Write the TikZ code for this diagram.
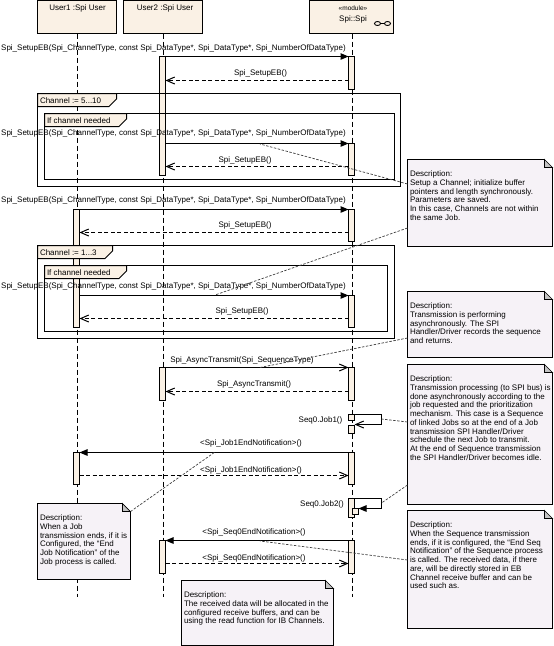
\documentclass[tikz,border=0pt]{standalone}
\usepackage{fontspec}
\setmainfont{Liberation Sans}
\usepackage{xcolor}
\usetikzlibrary{positioning,calc,arrows.meta}
\definecolor{headfill}{HTML}{FAF1E5}
\definecolor{notefill}{HTML}{F6F2F7}
\definecolor{foldfill}{HTML}{C4C4C4}
\tikzset{
  every node/.style={font=\fontsize{8}{8.7}\selectfont, inner sep=0pt, outer sep=0pt},
  headbox/.style={draw, fill=headfill, line width=1pt, anchor=north west},
  actbox/.style={draw, fill=headfill, line width=1pt, minimum width=6pt},
  framebox/.style={draw, line width=1pt},
  tabbox/.style={draw, fill=headfill, line width=1pt},
  lifeline/.style={line width=1pt, dash pattern=on 5pt off 3pt},
  callmsg/.style={line width=1pt, -{Triangle[length=8pt,width=6.5pt]}},
  openmsg/.style={line width=1pt, -{Straight Barb[length=8pt,width=7pt]}},
  retmsg/.style={line width=1pt, dash pattern=on 4pt off 2.5pt, -{Straight Barb[length=8pt,width=7pt]}},
  notebox/.style={draw, fill=notefill, line width=1pt, anchor=north west},
  notetext/.style={align=left},
  foldcut/.style={fill=white},
  foldflap/.style={draw, fill=foldfill, line width=0.7pt},
  noteline/.style={draw=black!75, line width=0.7pt, dash pattern=on 2.5pt off 1.5pt},
}
\begin{document}
\begin{tikzpicture}[x=1pt, y=-1pt]
  \useasboundingbox (0,0) rectangle (554,646);

  % Heads
  \node[headbox, minimum width=79pt, minimum height=33pt] (headA) at (37.5,0.5) {};
  \node[headbox, minimum width=79pt, minimum height=33pt] (headB) at (123.5,0.5) {};
  \node[headbox, minimum width=84pt, minimum height=33pt] (headC) at (309.5,0.5) {};
  \node (nameA) at (77.5,8.5) {User1 :Spi User};
  \node (nameB) at (165,8.5) {User2 :Spi User};
  \node[font=\fontsize{6.5}{7}\selectfont] (stereoC) at (353,8.5) {«module»};
  \node (nameC) at (353,19.5) {Spi::Spi};
  \draw[line width=0.9pt] (377.5,23.5) ellipse (3pt and 2pt) (387.5,23.5) ellipse (3pt and 2pt) (380.5,23.5) -- (384.5,23.5);

  % Lifelines
  \coordinate (endA) at (77.5,597);
  \coordinate (endB) at (163.5,597);
  \coordinate (endC) at (352.5,597);
  \draw[lifeline] (endA |- headA.south) -- (endA);
  \draw[lifeline] (endB |- headB.south) -- (endB);
  \draw[lifeline] (endC |- headC.south) -- (endC);

  % Activations
  \node[actbox, minimum height=119pt] (actA) at (162.5,116) {};
  \node[actbox, minimum height=33pt] (actB) at (351.5,73) {};
  \node[actbox, minimum height=32pt] (actC) at (351.5,159.5) {};
  \node[actbox, minimum height=118pt] (actD) at (76.5,268.5) {};
  \node[actbox, minimum height=32pt] (actE) at (351.5,225.5) {};
  \node[actbox, minimum height=32pt] (actF) at (351.5,311.5) {};
  \node[actbox, minimum height=33pt] (actG) at (162.5,384) {};
  \node[actbox, minimum height=33pt] (actH) at (351.5,384) {};
  \node[actbox, minimum height=6pt] (jobA) at (351.5,417.5) {};
  \node[actbox, minimum height=8pt] (jobB) at (351.5,429.5) {};
  \node[actbox, minimum height=32pt] (actI) at (351.5,468.5) {};
  \node[actbox, minimum height=32pt] (actJ) at (76.5,468.5) {};
  \node[actbox, minimum height=19pt] (jobC) at (351.5,508) {};
  \node[actbox, minimum height=6pt] (jobD) at (355.5,511.5) {};
  \node[actbox, minimum height=33pt] (actK) at (351.5,557) {};
  \node[actbox, minimum height=33pt] (actL) at (162.5,557) {};

  % Loop frames
  \draw[framebox] (37.5,93.5) rectangle (400.5,186.5);
  \draw[framebox] (44.5,113.5) rectangle (394.5,179.5);
  \draw[framebox] (37.5,245.5) rectangle (394.5,338.5);
  \draw[framebox] (44.5,265.5) rectangle (387.5,331.5);
  \draw[tabbox] (37.5,93.5) -- (116.5,93.5) -- (116.5,99) -- (109,106.5) -- (37.5,106.5) -- cycle;
  \draw[tabbox] (44.5,113.5) -- (126.5,113.5) -- (126.5,119) -- (119,126.5) -- (44.5,126.5) -- cycle;
  \draw[tabbox] (37.5,245.5) -- (112.5,245.5) -- (112.5,251) -- (105,258.5) -- (37.5,258.5) -- cycle;
  \draw[tabbox] (44.5,265.5) -- (126.5,265.5) -- (126.5,271) -- (119,278.5) -- (44.5,278.5) -- cycle;
  \node[anchor=west] (tabA) at (40,101) {Channel := 5...10};
  \node[anchor=west] (tabB) at (47,120.3) {If channel needed};
  \node[anchor=west] (tabC) at (40,253) {Channel := 1...3};
  \node[anchor=west] (tabD) at (47,273) {If channel needed};

  % Calls and returns
  \draw[callmsg] (actA.east |- actB.north) -- (actB.north west);
  \draw[retmsg] (actB.west |- 0,80.5) -- (actA.east |- 0,80.5);
  \draw[callmsg] (actA.east |- actC.north) -- (actC.north west);
  \draw[retmsg] (actC.west |- 0,166.5) -- (actA.east |- 0,166.5);
  \draw[callmsg] (actD.east |- actE.north) -- (actE.north west);
  \draw[retmsg] (actE.west |- 0,232.5) -- (actD.east |- 0,232.5);
  \draw[callmsg] (actD.east |- actF.north) -- (actF.north west);
  \draw[retmsg] (actF.west |- 0,318.5) -- (actD.east |- 0,318.5);
  \draw[openmsg] (actG.north east) -- (actH.north west);
  \draw[retmsg] (actH.west |- 0,391.5) -- (actG.east |- 0,391.5);
  \coordinate (loopA) at (381.5,424.5);
  \draw[openmsg] (jobA.north east) -| (loopA) -- (jobB.east |- loopA);
  \draw[callmsg] (actI.north west) -- (actJ.north east);
  \draw[retmsg] (actJ.east |- 0,475.5) -- (actI.west |- 0,475.5);
  \coordinate (loopB) at (381.5,508.5);
  \draw[callmsg] (jobC.north east) -| (loopB) -- (jobD.north east);
  \draw[callmsg] (actK.north west) -- (actL.north east);
  \draw[retmsg] (actL.east |- 0,563.5) -- (actK.west |- 0,563.5);

  % Message labels
  \node (setupA) at (173.5,48) {Spi\_SetupEB(Spi\_ChannelType, const Spi\_DataType*, Spi\_DataType*, Spi\_NumberOfDataType)};
  \node (setupB) at (260.5,73) {Spi\_SetupEB()};
  \node (setupC) at (173.5,133) {Spi\_SetupEB(Spi\_ChannelType, const Spi\_DataType*, Spi\_DataType*, Spi\_NumberOfDataType)};
  \node (setupD) at (245,160) {Spi\_SetupEB()};
  \node (setupE) at (173.5,200) {Spi\_SetupEB(Spi\_ChannelType, const Spi\_DataType*, Spi\_DataType*, Spi\_NumberOfDataType)};
  \node (setupF) at (245,225) {Spi\_SetupEB()};
  \node (setupG) at (173.5,286) {Spi\_SetupEB(Spi\_ChannelType, const Spi\_DataType*, Spi\_DataType*, Spi\_NumberOfDataType)};
  \node (setupH) at (242,311) {Spi\_SetupEB()};
  \node (asyncA) at (242,360) {Spi\_AsyncTransmit(Spi\_SequenceType)};
  \node (asyncB) at (254,384) {Spi\_AsyncTransmit()};
  \node (seqA) at (320.5,420) {Seq0.Job1()};
  \node (notifA) at (251,443) {<Spi\_Job1EndNotification>()};
  \node (notifB) at (251,470) {<Spi\_Job1EndNotification>()};
  \node (seqB) at (322,504) {Seq0.Job2()};
  \node (notifC) at (254,532) {<Spi\_Seq0EndNotification>()};
  \node (notifD) at (254,558) {<Spi\_Seq0EndNotification>()};

  % Note links
  \coordinate (linkA) at (260,144);
  \coordinate (linkB) at (215,295);
  \coordinate (linkC) at (260,367.5);
  \coordinate (linkD) at (381.5,419);
  \coordinate (linkE) at (381.5,503);
  \coordinate (linkF) at (260,541);
  \coordinate (linkG) at (215,452);

  % Notes
  \node[notebox, minimum width=145pt, minimum height=87pt] (noteA) at (407.5,159.5) {};
  \node[notebox, minimum width=145pt, minimum height=66pt] (noteB) at (407.5,291.5) {};
  \node[notebox, minimum width=145pt, minimum height=140pt] (noteC) at (407.5,364.5) {};
  \node[notebox, minimum width=145pt, minimum height=118pt] (noteD) at (407.5,510.5) {};
  \node[notebox, minimum width=93pt, minimum height=76pt] (noteE) at (37.5,503.5) {};
  \node[notebox, minimum width=152pt, minimum height=65pt] (noteF) at (181.5,580.5) {};
  \draw[noteline] (noteA.west |- 0,184) -- (linkA);
  \draw[noteline] (noteA.west |- 0,228) -- (linkB);
  \draw[noteline] (noteB.west |- 0,338) -- (linkC);
  \draw[noteline] (noteC.west |- 0,422) -- (linkD);
  \draw[noteline] (noteC.west |- 0,485) -- (linkE);
  \draw[noteline] (noteD.west |- 0,560) -- (linkF);
  \draw[noteline] ($(noteE.north east)+(0,8)$) -- (linkG);
  \fill[foldcut] ($(noteA.north east)+(-8,-0.5)$) -- ($(noteA.north east)+(0.5,-0.5)$) -- ($(noteA.north east)+(0.5,8)$) -- cycle;
  \draw[foldflap] ($(noteA.north east)+(-8,0)$) -- ++(8,8) -- ++(-8,0) -- cycle;
  \fill[foldcut] ($(noteB.north east)+(-8,-0.5)$) -- ($(noteB.north east)+(0.5,-0.5)$) -- ($(noteB.north east)+(0.5,8)$) -- cycle;
  \draw[foldflap] ($(noteB.north east)+(-8,0)$) -- ++(8,8) -- ++(-8,0) -- cycle;
  \fill[foldcut] ($(noteC.north east)+(-8,-0.5)$) -- ($(noteC.north east)+(0.5,-0.5)$) -- ($(noteC.north east)+(0.5,8)$) -- cycle;
  \draw[foldflap] ($(noteC.north east)+(-8,0)$) -- ++(8,8) -- ++(-8,0) -- cycle;
  \fill[foldcut] ($(noteD.north east)+(-8,-0.5)$) -- ($(noteD.north east)+(0.5,-0.5)$) -- ($(noteD.north east)+(0.5,8)$) -- cycle;
  \draw[foldflap] ($(noteD.north east)+(-8,0)$) -- ++(8,8) -- ++(-8,0) -- cycle;
  \fill[foldcut] ($(noteE.north east)+(-8,-0.5)$) -- ($(noteE.north east)+(0.5,-0.5)$) -- ($(noteE.north east)+(0.5,8)$) -- cycle;
  \draw[foldflap] ($(noteE.north east)+(-8,0)$) -- ++(8,8) -- ++(-8,0) -- cycle;
  \fill[foldcut] ($(noteF.north east)+(-8,-0.5)$) -- ($(noteF.north east)+(0.5,-0.5)$) -- ($(noteF.north east)+(0.5,8)$) -- cycle;
  \draw[foldflap] ($(noteF.north east)+(-8,0)$) -- ++(8,8) -- ++(-8,0) -- cycle;

  % Note texts
  \node[notetext, below right=11.5pt and 2.5pt of noteA.north west] (textA) {Description:\\Setup a Channel; initialize buffer\\pointers and length synchronously.\\Parameters are saved.\\In this case, Channels are not within\\the same Job.};
  \node[notetext, below right=11.5pt and 2.5pt of noteB.north west] (textB) {Description:\\Transmission is performing\\asynchronously. The SPI\\Handler/Driver records the sequence\\and returns.};
  \node[notetext, below right=11.5pt and 2.5pt of noteC.north west] (textC) {Description:\\Transmission processing (to SPI bus) is\\done asynchronously according to the\\job requested and the prioritization\\mechanism. This case is a Sequence\\of linked Jobs so at the end of a Job\\transmission SPI Handler/Driver\\schedule the next Job to transmit.\\At the end of Sequence transmission\\the SPI Handler/Driver becomes idle.};
  \node[notetext, below right=11.5pt and 2.5pt of noteD.north west] (textD) {Description:\\When the Sequence transmission\\ends, if it is configured, the “End Seq\\Notification” of the Sequence process\\is called. The received data, if there\\are, will be directly stored in EB\\Channel receive buffer and can be\\used such as.};
  \node[notetext, below right=11.5pt and 2.5pt of noteE.north west] (textE) {Description:\\When a Job\\transmission ends, if it is\\Configured, the “End\\Job Notification” of the\\Job process is called.};
  \node[notetext, below right=11.5pt and 2.5pt of noteF.north west] (textF) {Description:\\The received data will be allocated in the\\configured receive buffers, and can be\\using the read function for IB Channels.};
\end{tikzpicture}
\end{document}
